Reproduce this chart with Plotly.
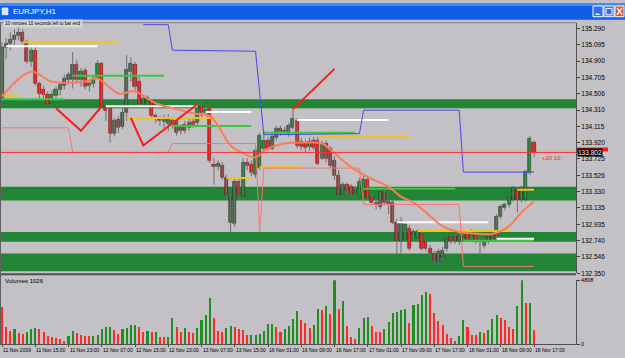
import plotly.graph_objects as go

W, H = 625, 358

# ---------------- data ----------------
bars = list(range(129))
open_ = [
    134.452, 135.066, 135.113, 135.160, 135.207, 135.243, 135.137, 134.889, 135.030, 134.629,
    134.558, 134.499, 134.393, 134.487, 134.558, 134.605, 134.676, 134.676, 134.853, 134.676,
    134.782, 134.605, 134.629, 134.700, 134.865, 134.357, 134.322, 134.027, 134.192, 134.110,
    134.275, 134.771, 134.853, 134.653, 134.393, 134.416, 134.416, 134.239, 134.204, 134.169,
    134.145, 134.133, 134.180, 134.062, 134.133, 134.098, 134.169, 134.157, 134.346, 134.275,
    134.322, 133.661, 133.637, 133.649, 133.496, 132.953, 132.941, 133.448, 133.271, 133.684,
    133.661, 133.531, 133.625, 133.850, 133.944, 133.850, 133.980, 134.086, 134.051, 134.027,
    134.098, 134.180, 133.933, 133.909, 133.874, 133.944, 133.944, 133.732, 133.909, 133.850,
    133.708, 133.519, 133.295, 133.413, 133.389, 133.307, 133.354, 133.260, 133.472, 133.260,
    133.200, 133.153, 133.319, 133.212, 133.200, 132.964, 132.740, 132.764, 132.882, 132.811,
    132.764, 132.823, 132.728, 132.646, 132.587, 132.492, 132.551, 132.646, 132.787, 132.787,
    132.728, 132.787, 132.823, 132.799, 132.799, 132.740, 132.681, 132.740, 132.823, 132.799,
    133.035, 133.141, 133.177, 133.236, 133.354, 133.236, 133.236, 133.555, 133.921]
high = [
    135.125, 135.172, 135.243, 135.278, 135.302, 135.278, 135.160, 135.066, 135.066, 134.653,
    134.605, 134.534, 134.546, 134.593, 134.653, 134.735, 134.771, 135.007, 134.912, 134.818,
    134.818, 134.676, 134.723, 134.912, 134.889, 134.393, 134.346, 134.216, 134.239, 134.369,
    134.971, 134.948, 134.889, 134.712, 134.475, 134.487, 134.440, 134.275, 134.239, 134.251,
    134.263, 134.216, 134.216, 134.133, 134.180, 134.204, 134.204, 134.393, 134.416, 134.334,
    134.346, 133.732, 133.708, 133.684, 133.531, 133.295, 133.496, 133.496, 133.732, 133.732,
    133.708, 133.862, 134.039, 134.062, 133.992, 134.027, 134.121, 134.121, 134.110, 134.157,
    134.322, 134.216, 133.980, 133.956, 133.980, 133.992, 133.992, 133.944, 133.944, 133.874,
    133.755, 133.590, 133.448, 133.437, 133.425, 133.401, 133.496, 133.519, 133.496, 133.295,
    133.236, 133.378, 133.354, 133.260, 133.236, 133.000, 133.023, 132.976, 132.929, 132.882,
    132.882, 132.858, 132.764, 132.693, 132.622, 132.646, 132.669, 132.787, 132.823, 132.823,
    132.846, 132.835, 132.858, 132.882, 132.846, 132.787, 132.764, 132.811, 132.858, 133.059,
    133.177, 133.200, 133.295, 133.401, 133.378, 133.401, 133.590, 134.003, 133.944]
low = [
    134.416, 134.924, 135.030, 135.066, 135.148, 135.101, 134.865, 134.830, 134.605, 134.452,
    134.440, 134.369, 134.369, 134.452, 134.487, 134.558, 134.617, 134.570, 134.629, 134.593,
    134.558, 134.534, 134.582, 134.676, 134.334, 134.180, 133.921, 133.992, 134.039, 134.086,
    134.180, 134.653, 134.534, 134.357, 134.357, 134.369, 134.204, 134.157, 134.121, 134.086,
    134.062, 134.086, 134.003, 134.015, 134.027, 134.062, 134.098, 134.121, 134.228, 134.239,
    133.673, 133.413, 133.590, 133.472, 133.236, 132.846, 132.905, 133.236, 133.236, 133.590,
    133.519, 133.496, 133.590, 133.802, 133.826, 133.826, 133.944, 134.003, 134.015, 133.992,
    134.074, 133.850, 133.826, 133.802, 133.826, 133.826, 133.649, 133.708, 133.684, 133.614,
    133.472, 133.271, 133.260, 133.295, 133.260, 133.260, 133.319, 133.236, 133.236, 133.165,
    133.118, 133.118, 133.165, 133.059, 132.941, 132.587, 132.587, 132.728, 132.622, 132.764,
    132.728, 132.622, 132.610, 132.551, 132.469, 132.445, 132.504, 132.610, 132.705, 132.705,
    132.693, 132.740, 132.728, 132.764, 132.705, 132.563, 132.646, 132.705, 132.728, 132.764,
    133.000, 133.106, 133.141, 133.212, 133.082, 133.200, 133.212, 133.531, 133.743]
close = [
    135.066, 135.113, 135.160, 135.207, 135.243, 135.137, 134.889, 135.030, 134.629, 134.511,
    134.499, 134.393, 134.499, 134.558, 134.617, 134.688, 134.735, 134.853, 134.676, 134.771,
    134.593, 134.629, 134.688, 134.865, 134.357, 134.298, 134.027, 134.180, 134.098, 134.275,
    134.794, 134.865, 134.593, 134.393, 134.452, 134.464, 134.239, 134.204, 134.180, 134.204,
    134.204, 134.180, 134.039, 134.098, 134.062, 134.157, 134.133, 134.346, 134.275, 134.310,
    133.708, 133.637, 133.673, 133.496, 133.283, 133.260, 133.448, 133.295, 133.684, 133.649,
    133.555, 133.826, 134.003, 133.944, 133.850, 133.992, 134.086, 134.051, 134.062, 134.121,
    134.204, 133.885, 133.874, 133.862, 133.933, 133.862, 133.673, 133.909, 133.732, 133.649,
    133.519, 133.295, 133.413, 133.354, 133.295, 133.342, 133.448, 133.472, 133.260, 133.200,
    133.177, 133.330, 133.200, 133.189, 132.964, 132.740, 132.976, 132.929, 132.646, 132.846,
    132.846, 132.646, 132.646, 132.587, 132.504, 132.610, 132.622, 132.764, 132.740, 132.740,
    132.799, 132.776, 132.764, 132.846, 132.740, 132.728, 132.740, 132.787, 132.764, 133.035,
    133.153, 133.177, 133.271, 133.378, 133.236, 133.378, 133.566, 133.968, 133.802]
volume = [
    2810, 1250, 960, 1090, 790, 720, 910, 1090, 1180, 1150,
    910, 620, 540, 420, 370, 245, 600, 980, 840, 670,
    620, 610, 630, 670, 1090, 1240, 1260, 1030, 760, 1130,
    1230, 1400, 1420, 1270, 890, 980, 870, 890, 540, 530,
    550, 1980, 1270, 890, 1160, 910, 790, 1160, 1830, 2140,
    3450, 1980, 980, 870, 1160, 1330, 1270, 1090, 1080, 640,
    690, 700, 740, 980, 1470, 1480, 1270, 910, 1130, 1380,
    1850, 2510, 1780, 1580, 1230, 1400, 2630, 2580, 2830, 2270,
    4808, 2630, 3200, 1350, 490, 370, 1230, 1920, 2050, 1350,
    910, 870, 1110, 1650, 2340, 2410, 2540, 2660, 1600, 2960,
    3030, 3700, 3900, 3770, 2340, 1720, 1400, 740, 440, 245,
    570, 1780, 1270, 690, 640, 870, 820, 1060, 1900, 2160,
    1980, 1800, 1310, 1110, 2830, 4790, 3050, 3080, 1026]

time_labels = ["11 Nov 2009", "11 Nov 15:00", "11 Nov 23:00", "12 Nov 07:00", "12 Nov 15:00",
               "12 Nov 23:00", "13 Nov 07:00", "13 Nov 15:00", "16 Nov 01:00", "16 Nov 09:00",
               "16 Nov 17:00", "17 Nov 01:00", "17 Nov 09:00", "17 Nov 17:00", "18 Nov 01:00",
               "18 Nov 09:00", "18 Nov 17:00"]
label_bars = list(range(0, 129, 8))
price_ticks = [135.290, 135.095, 134.900, 134.705, 134.506, 134.310, 134.115, 133.920,
               133.725, 133.526, 133.330, 133.135, 132.935, 132.740, 132.546, 132.350]
vol_max = max(volume)

# moving average (thick salmon)
ma_bars = [0, 7, 12, 20, 23, 28, 32, 37, 42, 47, 50, 52, 55, 58, 61, 64, 68, 74, 77, 80,
           84, 88, 93, 96, 99, 102, 106, 110, 115, 118, 122, 125, 128]
ma_vals = [134.475, 134.771, 134.653, 134.653, 134.688, 134.511, 134.534, 134.393, 134.322, 134.263,
           134.239, 134.121, 133.885, 133.791, 133.743, 133.850, 133.909, 133.921, 133.909, 133.791,
           133.625, 133.507, 133.389, 133.271, 133.200, 133.082, 132.917, 132.846, 132.823, 132.823,
           132.917, 133.082, 133.212]
# upper channel (blue) and lower channel (pink)
upper_bars = [34, 40, 41, 61, 63, 86, 87, 110, 111, 128]
upper_vals = [135.337, 135.337, 135.030, 135.018, 134.015, 134.027, 134.310, 134.310, 133.566, 133.566]
lower_bars = [0, 16, 17, 40, 41, 61, 62, 63, 86, 87, 110, 111, 128]
lower_vals = [134.098, 134.098, 133.802, 133.802, 133.909, 133.909, 132.846, 133.614, 133.614,
              133.177, 133.177, 132.433, 132.433]
# zigzag legs (red)
zz_bars = [13, 19, 24, None, 31, 34, 47, None, 70, 80]
zz_vals = [134.334, 134.062, 134.357, None, 134.216, 133.885, 134.381, None, 134.322, 134.806]

# horizontal levels
yellow_start = [5, 0, 30, 54, 62, 76, 100, 124]
yellow_end = [28, 4, 52, 60, 72, 98, 122, 128]
yellow_price = [135.125, 134.487, 134.216, 133.496, 133.625, 133.992, 132.858, 133.354]
white_start = [1, 25, 49, 71, 95, 119]
white_end = [23, 47, 60, 93, 117, 128]
white_price = [135.078, 134.357, 134.287, 134.192, 132.964, 132.764]
green_start = [17, 0, 41, 63, 87, 111]
green_end = [39, 15, 60, 85, 109, 128]
green_price = [134.723, 134.440, 134.121, 134.039, 133.366, 132.740]

# support / resistance zones
zone_top = [134.440, 133.389, 132.846, 132.587]
zone_bottom = [134.334, 133.224, 132.728, 132.374]

# ---------------- helpers ----------------
def px(x):
    return x / W

def py(y):
    return 1 - y / H

BG = "#c3c1c5"
FONT = "Liberation Sans"
fig = go.Figure()

# candle wicks
wx, wy = [], []
for i, h, l in zip(bars, high, low):
    wx += [i, i, None]
    wy += [l, h, None]
fig.add_trace(go.Scatter(x=wx, y=wy, mode="lines", line=dict(color="#707070", width=1),
                         hoverinfo="skip", xaxis="x", yaxis="y"))

# candle bodies
up_x, up_b, up_h, dn_x, dn_b, dn_h = [], [], [], [], [], []
for i, o, c in zip(bars, open_, close):
    hgt = max(abs(c - o), 0.006)
    if c >= o:
        up_x.append(i); up_b.append(min(o, c)); up_h.append(hgt)
    else:
        dn_x.append(i); dn_b.append(min(o, c)); dn_h.append(hgt)
fig.add_trace(go.Bar(x=up_x, y=up_h, base=up_b, width=0.74, xaxis="x", yaxis="y",
                     marker=dict(color="#238a33", line=dict(color="#2a2a2a", width=0.6))))
fig.add_trace(go.Bar(x=dn_x, y=dn_h, base=dn_b, width=0.74, xaxis="x", yaxis="y",
                     marker=dict(color="#ff1414", line=dict(color="#5a2020", width=0.6))))

# horizontal level lines
def seg_trace(starts, ends, prices, color):
    xs, ys = [], []
    for s, e, p in zip(starts, ends, prices):
        xs += [s, e, None]
        ys += [p, p, None]
    return go.Scatter(x=xs, y=ys, mode="lines", line=dict(color=color, width=2),
                      hoverinfo="skip", xaxis="x", yaxis="y")

fig.add_trace(seg_trace(green_start, green_end, green_price, "#3cc83c"))
fig.add_trace(seg_trace(white_start, white_end, white_price, "#ffffff"))
fig.add_trace(seg_trace(yellow_start, yellow_end, yellow_price, "#f2c21e"))

# channel lines
fig.add_trace(go.Scatter(x=upper_bars, y=upper_vals, mode="lines", line=dict(color="#4a4ae8", width=1),
                         xaxis="x", yaxis="y"))
fig.add_trace(go.Scatter(x=lower_bars, y=lower_vals, mode="lines", line=dict(color="#f07878", width=1),
                         xaxis="x", yaxis="y"))
# moving average
fig.add_trace(go.Scatter(x=ma_bars, y=ma_vals, mode="lines",
                         line=dict(color="#ff7a58", width=2, shape="spline", smoothing=1.0),
                         xaxis="x", yaxis="y"))
# zigzag
fig.add_trace(go.Scatter(x=zz_bars, y=zz_vals, mode="lines", line=dict(color="#ff1a1a", width=2),
                         connectgaps=False, xaxis="x", yaxis="y"))

# volumes (green when rising vs previous bar, red otherwise)
vol_colors = ["#ff2a2a"] + ["#1f8f1f" if volume[i] > volume[i - 1] else "#ff2a2a"
                            for i in range(1, len(volume))]
fig.add_trace(go.Bar(x=bars, y=volume, width=0.5, marker=dict(color=vol_colors, line=dict(width=0)),
                     xaxis="x2", yaxis="y2"))

# ---------------- shapes ----------------
shapes = []
for t, b in zip(zone_top, zone_bottom):
    shapes.append(dict(type="rect", xref="x domain", yref="y", x0=0, x1=1, y0=b, y1=t,
                       fillcolor="#228536", line=dict(width=0), layer="below"))
# current price line
shapes.append(dict(type="line", xref="x domain", yref="y", x0=0, x1=1, y0=close[-1], y1=close[-1],
                   line=dict(color="#ff3030", width=1)))
# ask marker box (red) on the price scale
shapes.append(dict(type="rect", xref="paper", yref="paper", x0=px(577), x1=px(608), y0=py(151), y1=py(147),
                   fillcolor="#ff1a1a", line=dict(width=0)))
# panel separators / frame
shapes.append(dict(type="line", xref="paper", yref="paper", x0=0, x1=px(576), y0=py(276), y1=py(276),
                   line=dict(color="#505050", width=2)))
shapes.append(dict(type="line", xref="paper", yref="paper", x0=0, x1=px(576), y0=py(20), y1=py(20),
                   line=dict(color="#808080", width=1)))
shapes.append(dict(type="line", xref="paper", yref="paper", x0=px(0.5), x1=px(0.5), y0=py(20), y1=py(348),
                   line=dict(color="#606060", width=1)))
# title bar
shapes.append(dict(type="rect", xref="paper", yref="paper", x0=0, x1=1, y0=py(17), y1=1,
                   fillcolor="#0f5ee8", line=dict(width=0)))
shapes.append(dict(type="rect", xref="paper", yref="paper", x0=0, x1=1, y0=py(3), y1=1,
                   fillcolor="#3f8cf5", line=dict(width=0)))
shapes.append(dict(type="rect", xref="paper", yref="paper", x0=px(2), x1=px(8), y0=py(12), y1=py(5),
                   fillcolor="#d8e4f8", line=dict(color="#ffffff", width=0.5)))
# window buttons
for x0, x1, col in [(593, 603, "#2f6ff2"), (604, 614, "#2f6ff2"), (615, 624, "#e2502a")]:
    shapes.append(dict(type="rect", xref="paper", yref="paper", x0=px(x0), x1=px(x1), y0=py(14), y1=py(3),
                       fillcolor=col, line=dict(color="#ffffff", width=1)))
shapes.append(dict(type="line", xref="paper", yref="paper", x0=px(595.5), x1=px(599.5), y0=py(11.5), y1=py(11.5),
                   line=dict(color="#ffffff", width=1.5)))
shapes.append(dict(type="rect", xref="paper", yref="paper", x0=px(606), x1=px(612), y0=py(12), y1=py(5.5),
                   line=dict(color="#ffffff", width=1)))
shapes.append(dict(type="line", xref="paper", yref="paper", x0=px(617), x1=px(622), y0=py(5), y1=py(12),
                   line=dict(color="#ffffff", width=1.5)))
shapes.append(dict(type="line", xref="paper", yref="paper", x0=px(617), x1=px(622), y0=py(12), y1=py(5),
                   line=dict(color="#ffffff", width=1.5)))

# ---------------- annotations ----------------
ann = []
for b, t in zip(label_bars, time_labels):
    ann.append(dict(x=b, y=py(352.5), xref="x2", yref="paper", text=t, showarrow=False,
                    xanchor="left", yanchor="middle", xshift=-1,
                    font=dict(family=FONT, size=5, color="#000000")))
ann.append(dict(x=px(11), y=py(8.5), xref="paper", yref="paper", text="EURJPY,H1", showarrow=False,
                xanchor="left", yanchor="middle", font=dict(family=FONT, size=8, color="#ffffff")))
ann.append(dict(x=px(3), y=py(20.5), xref="paper", yref="paper",
                text="10 minutes 10 seconds left to bar end", showarrow=False,
                xanchor="left", yanchor="middle", bgcolor="#d6d6d6",
                font=dict(family=FONT, size=4.5, color="#000000")))
ann.append(dict(x=px(3), y=py(283), xref="paper", yref="paper", text="Volumes " + str(volume[-1]),
                showarrow=False, xanchor="left", yanchor="middle",
                font=dict(family=FONT, size=6, color="#000000")))
ann.append(dict(x=px(577), y=py(152.5), xref="paper", yref="paper", text=f"{close[-1]:.3f}",
                showarrow=False, xanchor="left", yanchor="middle", bgcolor="#000000", borderpad=0,
                font=dict(family=FONT, size=6.5, color="#ffffff")))
ann.append(dict(x=129.4, y=close[-1] - 0.07, xref="x", yref="y", text="+20 10",
                showarrow=False, xanchor="left", yanchor="middle",
                font=dict(family=FONT, size=6, color="#ff2020")))

xr = [-0.48, 138.1]
fig.update_layout(
    width=W, height=H, margin=dict(l=0, r=0, t=0, b=0),
    paper_bgcolor=BG, plot_bgcolor=BG, showlegend=False, barmode="overlay", bargap=0,
    xaxis=dict(domain=[0, px(576)], range=xr, showgrid=False, zeroline=False,
               showticklabels=False, anchor="y"),
    yaxis=dict(domain=[py(275), py(20)], range=[132.349, 135.361], side="right", anchor="x",
               tickvals=price_ticks, ticktext=[f"{v:.3f}" for v in price_ticks],
               ticks="outside", ticklen=3, tickcolor="#404040", showgrid=False, zeroline=False,
               showline=True, linecolor="#505050", linewidth=1,
               tickfont=dict(family=FONT, size=6.5, color="#000000")),
    xaxis2=dict(domain=[0, px(576)], range=xr, showgrid=False, zeroline=False,
                showticklabels=False, anchor="y2", showline=True, linecolor="#505050",
                ticks="outside", tickvals=label_bars, ticklen=2, tickcolor="#505050"),
    yaxis2=dict(domain=[py(347), py(282)], range=[0, vol_max], side="right", anchor="x2",
                tickvals=[0, vol_max], ticktext=["0", str(vol_max)], ticks="outside", ticklen=3,
                tickcolor="#404040", showgrid=False, zeroline=False, showline=True,
                linecolor="#505050", tickfont=dict(family=FONT, size=5.5, color="#000000")),
    shapes=shapes, annotations=ann,
)

fig.write_html("out.html")
